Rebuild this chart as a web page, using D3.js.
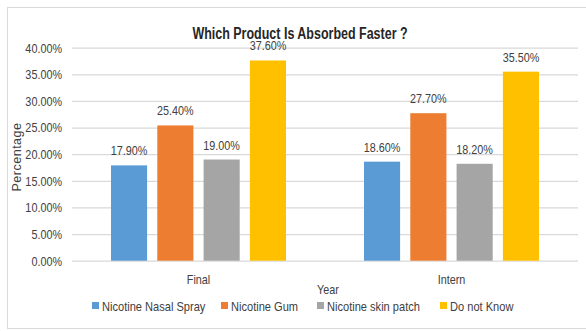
<!DOCTYPE html>
<html>
<head>
<meta charset="utf-8">
<script src="https://cdn.jsdelivr.net/npm/d3@7"></script>
<style>
  html, body { margin: 0; padding: 0; background: #fff; }
  svg text { font-family: "Liberation Sans", Arial, sans-serif; }
</style>
</head>
<body>
<svg id="chart" width="586" height="331"></svg>
<script>
// Survey answers: which nicotine product is absorbed faster, by year group
const categories = ["Final", "Intern"];
const series = ["Nicotine Nasal Spray", "Nicotine Gum", "Nicotine skin patch", "Do not Know"];
const nasalSpray = [17.9, 18.6];
const gum = [25.4, 27.7];
const skinPatch = [19.0, 18.2];
const doNotKnow = [37.6, 35.5];
const yTicks = [0, 5, 10, 15, 20, 25, 30, 35, 40];

const seriesValues = [nasalSpray, gum, skinPatch, doNotKnow];
const colors = ["#5B9BD5", "#ED7D31", "#A5A5A5", "#FFC000"];

const svg = d3.select("#chart");

// squeeze text horizontally to get a narrow face
function condense(sel, factor) {
  sel.each(function () {
    const w = this.getComputedTextLength();
    d3.select(this)
      .attr("textLength", w * factor)
      .attr("lengthAdjust", "spacingAndGlyphs");
  });
}

// chart frame
svg.append("rect")
  .attr("x", 7.5).attr("y", 7.5)
  .attr("width", 590).attr("height", 321)
  .attr("fill", "#fff")
  .attr("stroke", "#d9d9d9").attr("stroke-width", 1);

const plot = { left: 72, right: 578, top: 47.7, bottom: 260.7 };

const y = d3.scaleLinear().domain([0, 40]).range([plot.bottom, plot.top]);
const x0 = d3.scaleBand().domain(categories).range([plot.left, plot.right]);
const outer = 39;
const x1 = d3.scaleBand().domain(series)
  .range([outer, x0.bandwidth() - outer])
  .paddingInner(0.22);
const color = d3.scaleOrdinal().domain(series).range(colors);

// gridlines and y tick labels
const yAxis = d3.axisLeft(y)
  .tickValues(yTicks)
  .tickSize(-(plot.right - plot.left))
  .tickPadding(10)
  .tickFormat(d => d.toFixed(2) + "%");

const gy = svg.append("g")
  .attr("transform", `translate(${plot.left},0)`)
  .call(yAxis);
gy.select(".domain").remove();
gy.selectAll(".tick line").attr("stroke", "#d9d9d9").attr("stroke-width", 1.3);
gy.selectAll(".tick text")
  .attr("fill", "#404040")
  .attr("font-size", 13.5)
  .call(condense, 0.8);

// x category labels
const xAxis = d3.axisBottom(x0).tickSize(0).tickPadding(14);
const gx = svg.append("g")
  .attr("transform", `translate(0,${plot.bottom})`)
  .call(xAxis);
gx.select(".domain").remove();
gx.selectAll(".tick text")
  .attr("fill", "#404040")
  .attr("font-size", 13.5)
  .call(condense, 0.8);

// bars
const rows = categories.map((c, i) => ({
  category: c,
  values: series.map((s, j) => ({ series: s, value: seriesValues[j][i] }))
}));

const groups = svg.append("g").selectAll("g")
  .data(rows)
  .join("g")
  .attr("transform", d => `translate(${x0(d.category)},0)`);

groups.selectAll("rect")
  .data(d => d.values)
  .join("rect")
  .attr("x", d => x1(d.series))
  .attr("y", d => y(d.value))
  .attr("width", x1.bandwidth())
  .attr("height", d => y(0) - y(d.value))
  .attr("fill", d => color(d.series));

// value labels
groups.selectAll("text.value")
  .data(d => d.values)
  .join("text")
  .attr("class", "value")
  .attr("x", d => x1(d.series) + x1.bandwidth() / 2)
  .attr("y", d => y(d.value) - 10)
  .attr("text-anchor", "middle")
  .attr("font-size", 13.5)
  .attr("fill", "#404040")
  .text(d => d.value.toFixed(2) + "%")
  .call(condense, 0.8);

// title, drawn over the tallest value label
svg.append("text")
  .attr("x", 300).attr("y", 39)
  .attr("text-anchor", "middle")
  .attr("font-size", 16)
  .attr("font-weight", "bold")
  .attr("fill", "#262626")
  .text("Which Product Is Absorbed Faster ?")
  .call(condense, 0.78);

// axis titles
svg.append("text")
  .attr("transform", "translate(21,157) rotate(-90)")
  .attr("text-anchor", "middle")
  .attr("font-size", 12.5)
  .attr("letter-spacing", 0.5)
  .attr("fill", "#404040")
  .text("Percentage");

svg.append("text")
  .attr("x", 328).attr("y", 294)
  .attr("text-anchor", "middle")
  .attr("font-size", 13.5)
  .attr("fill", "#404040")
  .text("Year")
  .call(condense, 0.8);

// legend
const legendX = [92, 221, 317, 440];
const legend = svg.append("g").selectAll("g")
  .data(series)
  .join("g")
  .attr("transform", (d, i) => `translate(${legendX[i]},307)`);
legend.append("rect")
  .attr("x", 0).attr("y", -5)
  .attr("width", 7).attr("height", 7)
  .attr("fill", d => color(d));
legend.append("text")
  .attr("x", 10).attr("y", 4)
  .attr("font-size", 13.5)
  .attr("fill", "#404040")
  .text(d => d)
  .call(condense, 0.82);
</script>
</body>
</html>
